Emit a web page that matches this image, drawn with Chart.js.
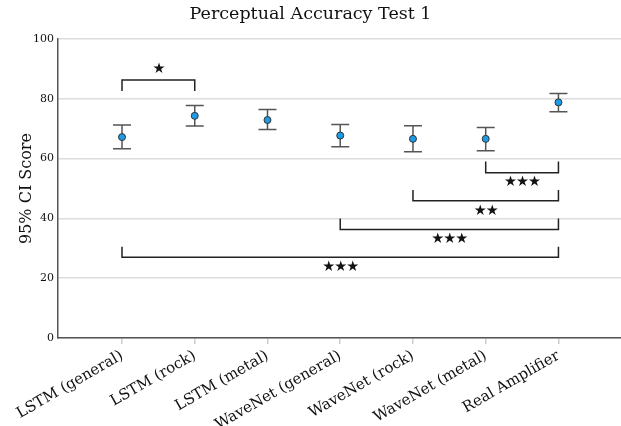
<!DOCTYPE html>
<html>
<head>
<meta charset="utf-8">
<script src="https://cdn.jsdelivr.net/npm/chart.js@4.4.0/dist/chart.umd.min.js"></script>
<style>
  html, body { margin: 0; padding: 0; background: #fff; overflow: hidden; }
  canvas { display: block; }
</style>
</head>
<body>
<canvas id="chart" width="621" height="426"></canvas>
<script>
const categories = ["LSTM (general)", "LSTM (rock)", "LSTM (metal)", "WaveNet (general)", "WaveNet (rock)", "WaveNet (metal)", "Real Amplifier"];
const means = [67.2, 74.3, 72.9, 67.7, 66.6, 66.6, 78.8];
const lower = [63.3, 70.9, 69.7, 64.0, 62.3, 62.6, 75.7];
const upper = [71.2, 77.8, 76.4, 71.4, 71.0, 70.4, 81.8];
const yTicks = [0, 20, 40, 60, 80, 100];

// significance brackets
const bracketFrom = [0, 5, 4, 3, 0];
const bracketTo = [1, 6, 6, 6, 6];
const bracketBar = [86.3, 55.3, 45.9, 36.3, 27.0];
const bracketEnd = [82.6, 59.0, 49.5, 40.0, 30.5];
const bracketStars = ["★", "★★★", "★★", "★★★", "★★★"];

const serif = "'DejaVu Serif', 'Liberation Serif', serif";

const errorBars = {
  id: "errorBars",
  beforeDatasetsDraw(chart) {
    const ctx = chart.ctx;
    const x = chart.scales.x, y = chart.scales.y;
    ctx.save();
    ctx.strokeStyle = "#555";
    ctx.lineWidth = 1.5;
    for (let i = 0; i < categories.length; i++) {
      const px = x.getPixelForValue(i);
      const top = y.getPixelForValue(upper[i]);
      const bot = y.getPixelForValue(lower[i]);
      ctx.beginPath();
      ctx.moveTo(px, top); ctx.lineTo(px, bot);
      ctx.moveTo(px - 9, top); ctx.lineTo(px + 9, top);
      ctx.moveTo(px - 9, bot); ctx.lineTo(px + 9, bot);
      ctx.stroke();
    }
    ctx.restore();
  },
  afterDatasetsDraw(chart) {
    const ctx = chart.ctx;
    const x = chart.scales.x, y = chart.scales.y;
    ctx.save();
    ctx.strokeStyle = "#222";
    ctx.fillStyle = "#111";
    ctx.lineWidth = 1.5;
    ctx.textAlign = "center";
    for (let i = 0; i < bracketFrom.length; i++) {
      const x1 = x.getPixelForValue(bracketFrom[i]);
      const x2 = x.getPixelForValue(bracketTo[i]);
      const yb = y.getPixelForValue(bracketBar[i]);
      const ye = y.getPixelForValue(bracketEnd[i]);
      ctx.beginPath();
      ctx.moveTo(x1, ye); ctx.lineTo(x1, yb); ctx.lineTo(x2, yb); ctx.lineTo(x2, ye);
      ctx.stroke();
      ctx.font = "14.5px 'DejaVu Sans', sans-serif";
      ctx.letterSpacing = "-1px";
      const above = bracketBar[i] > bracketEnd[i];
      ctx.textBaseline = "middle";
      ctx.fillText(bracketStars[i], (x1 + x2) / 2, above ? yb - 11 : yb + 10);
    }
    ctx.restore();
  }
};

new Chart(document.getElementById("chart"), {
  type: "scatter",
  data: {
    datasets: [{
      data: means.map((v, i) => ({ x: i, y: v })),
      backgroundColor: "#1e9be6",
      borderColor: "#333",
      borderWidth: 1,
      pointRadius: 3.5
    }]
  },
  options: {
    responsive: false,
    animation: false,
    layout: { padding: 0, autoPadding: false },
    plugins: {
      legend: { display: false },
      tooltip: { enabled: false },
      title: {
        display: true,
        text: "Perceptual Accuracy Test 1",
        color: "#111",
        font: { family: serif, size: 17.5, weight: "normal" },
        padding: { top: 4, bottom: 14 }
      }
    },
    scales: {
      x: {
        type: "linear",
        min: -0.88,
        max: 6.86,
        afterBuildTicks: (s) => { s.ticks = categories.map((c, i) => ({ value: i })); },
        afterFit: (s) => { s.height = 88; s.paddingRight = 0; s.paddingLeft = 0; },
        ticks: {
          callback: (v) => categories[v],
          minRotation: 30,
          maxRotation: 30,
          color: "#111",
          font: { family: serif, size: 15 },
          padding: 3
        },
        grid: { drawOnChartArea: false, drawTicks: true, tickLength: 6, color: "#ccc", lineWidth: 1.5 },
        border: { color: "#555", width: 1.5 }
      },
      y: {
        min: 0,
        max: 100,
        afterBuildTicks: (s) => { s.ticks = yTicks.map((v) => ({ value: v })); },
        afterFit: (s) => { s.width = 58; },
        ticks: {
          color: "#111",
          font: { family: serif, size: 11 },
          padding: 4
        },
        grid: { color: "#ddd", lineWidth: 1.5, drawTicks: false },
        border: { color: "#555", width: 1.5 },
        title: {
          display: true,
          text: "95% CI Score",
          color: "#111",
          font: { family: serif, size: 16 },
          padding: { top: 17, bottom: 0 }
        }
      }
    }
  },
  plugins: [errorBars]
});
</script>
</body>
</html>
